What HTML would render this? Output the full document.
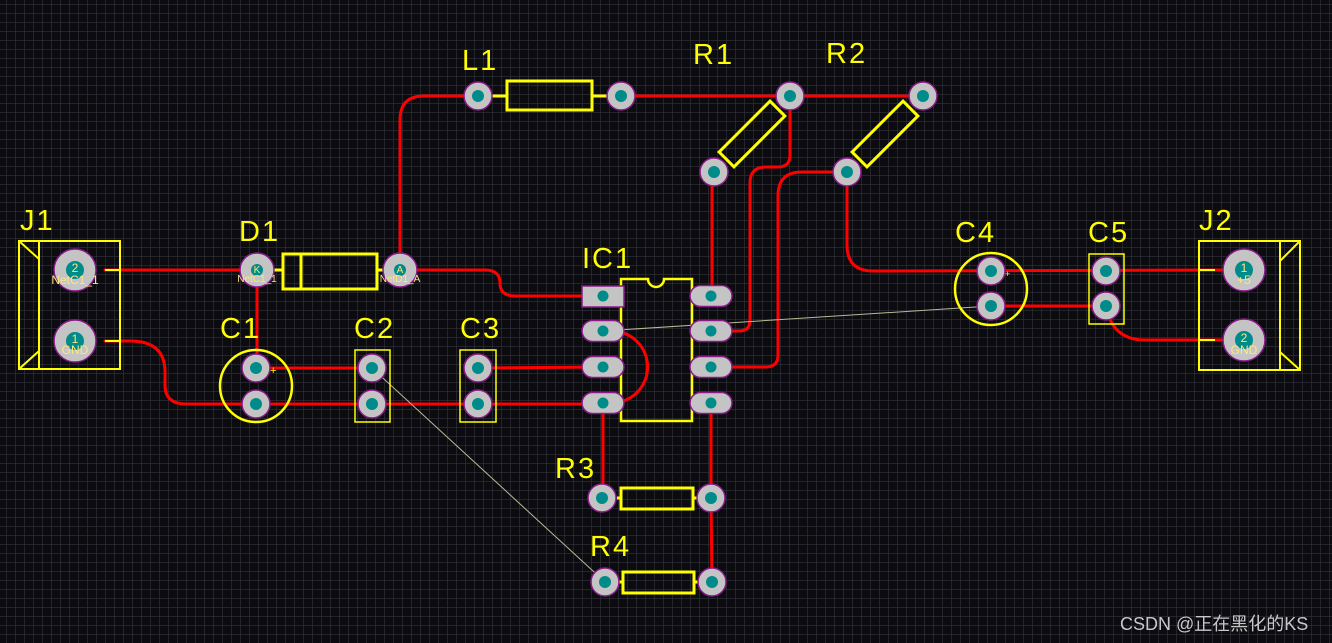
<!DOCTYPE html>
<html><head><meta charset="utf-8"><style>
html,body{margin:0;padding:0;background:#0b0b10;}
svg{display:block}
</style></head><body>
<svg width="1332" height="643" viewBox="0 0 1332 643" xmlns="http://www.w3.org/2000/svg">
<defs>
<pattern id="g" x="6" y="4" width="9" height="9" patternUnits="userSpaceOnUse">
<path d="M0 0H9M0 0V9" stroke="#33333d" stroke-width="1.2" fill="none"/>
</pattern>
<g id="pad"><circle r="14" fill="#c4c4c4" stroke="#8a1a8a" stroke-width="1.5"/><circle r="6" fill="#008b8b"/></g>
<g id="bpad"><circle r="21" fill="#c4c4c4" stroke="#8a1a8a" stroke-width="1.5"/><circle r="9" fill="#008b8b"/></g>
<g id="dpad"><circle r="17" fill="#c4c4c4" stroke="#8a1a8a" stroke-width="1.5"/><circle r="6" fill="#008b8b"/></g>
<g id="opad"><rect x="-21" y="-10.5" width="42" height="21" rx="10.5" fill="#c4c4c4" stroke="#8a1a8a" stroke-width="1.5"/><circle r="5.5" fill="#008b8b"/></g>
</defs>
<rect width="1332" height="643" fill="#0b0b10"/>
<rect width="1332" height="643" fill="url(#g)"/>

<g stroke="#ff0000" stroke-width="3" fill="none" stroke-linecap="round">
<path d="M105,270 L257,270"/>
<path d="M105,341 L130,341 Q165,341 165,372 L165,385 Q165,404 186,404 L603,404"/>
<path d="M257,270 L257,368 L372,368"/>
<path d="M478,368 L603,367"/>
<path d="M400,270 L400,120 Q400,96 424,96 L478,96"/>
<path d="M621,96 L923,96"/>
<path d="M400,270 L485,270 Q500,270 500,283 Q500,296 515,296 L603,296"/>
<path d="M712,172 L712,296"/>
<path d="M790,96 L790,155 Q790,167 778,167 L766,167 Q750,167 750,183 L750,320 Q750,331 739,331 L711,331"/>
<path d="M847,172 L802,172 Q778,172 778,196 L778,355 Q778,367 766,367 L711,367"/>
<path d="M847,172 L847,245 Q847,271 873,271 L1222,270"/>
<path d="M991,306 L1106,306 Q1112,340 1145,340 L1222,340"/>
<path d="M620,332 A36,36 0 0 1 620,402"/>
<path d="M603,404 L603,498"/>
<path d="M711,404 L711,498 L712,582"/>
</g>
<g stroke="#b8b898" stroke-width="1" fill="none">
<path d="M603,331 L991,306"/>
<path d="M372,368 L605,582"/>
</g>

<g stroke="#ffff00" stroke-width="3" fill="none">
<rect x="19" y="241" width="101" height="128" stroke-width="2"/>
<path d="M39,241 V369 M19,241 L39,259 M19,369 L39,351" stroke-width="2"/>
<path d="M105,270 H120 M105,341 H120" stroke-width="2"/>
<rect x="1199" y="241" width="101" height="129" stroke-width="2"/>
<path d="M1280,241 V370 M1300,241 L1280,261 M1300,370 L1280,352" stroke-width="2"/>
<path d="M1199,270 H1215 M1199,340 H1215" stroke-width="2"/>
<rect x="283" y="254" width="94" height="35"/>
<path d="M301,254 V289 M274,270 H283 M377,270 H384" />
<circle cx="256" cy="386" r="36" stroke-width="2.5"/>
<rect x="355" y="350" width="35" height="72" stroke-width="1.5"/>
<rect x="460" y="350" width="36" height="72" stroke-width="1.5"/>
<rect x="1089" y="254" width="35" height="70" stroke-width="1.5"/>
<circle cx="991" cy="289" r="36" stroke-width="2.5"/>
<path d="M621,421 V279 H648 A8,8 0 0 0 664,279 H692 V421 Z" stroke-width="2.5"/>
<rect x="507" y="81" width="85" height="29"/>
<path d="M492,96 H507 M592,96 H607"/>
<rect x="621" y="488" width="72" height="21"/>
<path d="M617,498 H621 M693,498 H697"/>
<rect x="623" y="572" width="71" height="21"/>
<path d="M619,582 H623 M694,582 H698"/>
<rect x="-36" y="-10.5" width="72" height="21" transform="translate(752,134) rotate(-45)"/>
<rect x="-36" y="-10.5" width="72" height="21" transform="translate(885,134) rotate(-45)"/>
</g>
<text x="270" y="374" fill="#ffff00" font-family="Liberation Sans, sans-serif" font-size="11">+</text>
<text x="1005" y="277" fill="#ffff00" font-family="Liberation Sans, sans-serif" font-size="9">+</text>

<use href="#bpad" x="75" y="270"/><use href="#bpad" x="75" y="341"/>
<use href="#bpad" x="1244" y="270"/><use href="#bpad" x="1244" y="340"/>
<use href="#dpad" x="257" y="270"/><use href="#dpad" x="400" y="270"/>
<use href="#pad" x="256" y="368"/><use href="#pad" x="256" y="404"/>
<use href="#pad" x="372" y="368"/><use href="#pad" x="372" y="404"/>
<use href="#pad" x="478" y="368"/><use href="#pad" x="478" y="404"/>
<use href="#pad" x="478" y="96"/><use href="#pad" x="621" y="96"/>
<use href="#pad" x="790" y="96"/><use href="#pad" x="714" y="172"/>
<use href="#pad" x="923" y="96"/><use href="#pad" x="847" y="172"/>
<use href="#pad" x="991" y="271"/><use href="#pad" x="991" y="306"/>
<use href="#pad" x="1106" y="271"/><use href="#pad" x="1106" y="306"/>
<use href="#pad" x="602" y="498"/><use href="#pad" x="711" y="498"/>
<use href="#pad" x="605" y="582"/><use href="#pad" x="712" y="582"/>
<rect x="582" y="286" width="42" height="21" fill="#c4c4c4" stroke="#8a1a8a" stroke-width="1.5"/><circle cx="603" cy="296" r="5.5" fill="#008b8b"/>
<use href="#opad" x="603" y="331"/><use href="#opad" x="603" y="367"/><use href="#opad" x="603" y="403"/>
<use href="#opad" x="711" y="296"/><use href="#opad" x="711" y="331"/><use href="#opad" x="711" y="367"/><use href="#opad" x="711" y="403"/>

<g fill="#ffe680" font-family="Liberation Sans, sans-serif" font-size="12" text-anchor="middle">
<text x="75" y="272">2</text><text x="75" y="284">NetC1_1</text>
<text x="75" y="343">1</text><text x="75" y="354">GND</text>
<text x="1244" y="272">1</text><text x="1244" y="284">+5</text>
<text x="1244" y="342">2</text><text x="1244" y="354">GND</text>
<text x="257" y="273" font-size="10">K</text><text x="257" y="282" font-size="10">NetC1_1</text>
<text x="400" y="273" font-size="10">A</text><text x="400" y="282" font-size="10">NetD1_A</text>
</g>

<g fill="#ffff00" font-family="Liberation Sans, sans-serif" font-size="29" letter-spacing="2">
<text x="20" y="230">J1</text>
<text x="239" y="241">D1</text>
<text x="220" y="338">C1</text>
<text x="354" y="338">C2</text>
<text x="460" y="338">C3</text>
<text x="582" y="268">IC1</text>
<text x="462" y="70">L1</text>
<text x="693" y="64">R1</text>
<text x="826" y="63">R2</text>
<text x="955" y="242">C4</text>
<text x="1088" y="242">C5</text>
<text x="1199" y="230">J2</text>
<text x="555" y="478">R3</text>
<text x="590" y="556">R4</text>
</g>
<text x="1120" y="630" fill="#c8c8c8" font-family="Liberation Sans, 'Noto Sans CJK SC', sans-serif" font-size="18">CSDN @正在黑化的KS</text>
</svg>
</body></html>
